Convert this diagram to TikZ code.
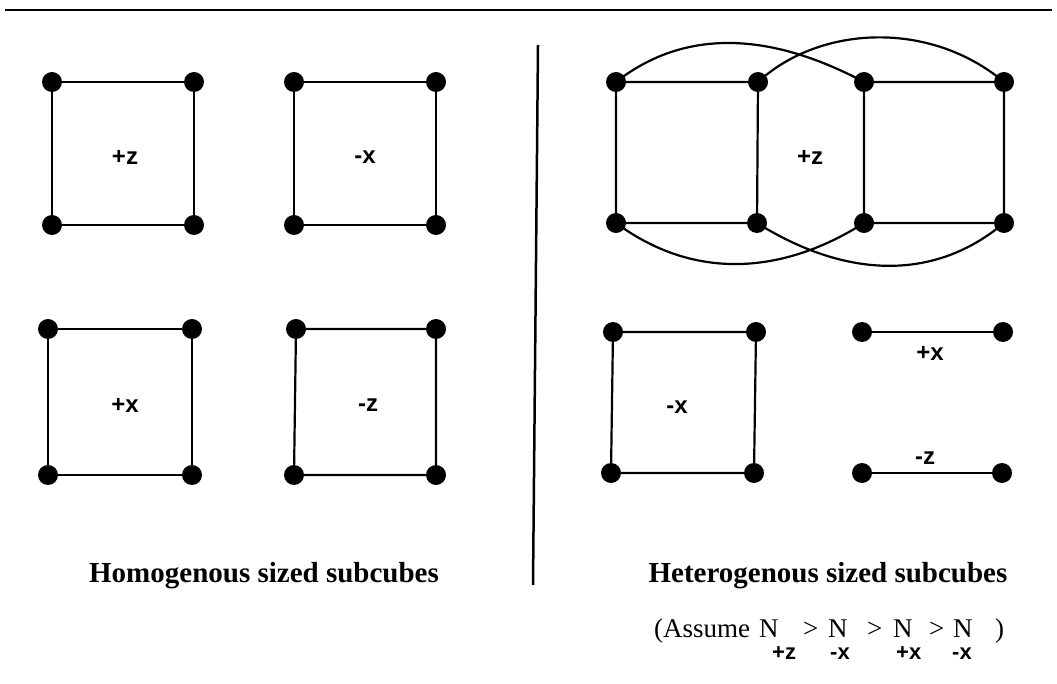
\documentclass[tikz,border=0pt]{standalone}
\usepackage{fontspec}
\setmainfont{Liberation Serif}
\newfontfamily\labfont{Liberation Sans}
\begin{document}
\begin{tikzpicture}[x=1pt,y=-1pt,
  dot/.style={circle,fill=black,inner sep=0pt,minimum size=20pt},
  edge/.style={line width=2.2pt},
  lab/.style={font=\labfont\bfseries\fontsize{24}{24}\selectfont,inner sep=0pt},
  captext/.style={font=\bfseries\fontsize{29}{29}\selectfont,inner sep=0pt,anchor=base},
  asm/.style={font=\fontsize{27}{27}\selectfont,inner sep=0pt,anchor=base west},
  subtext/.style={font=\labfont\bfseries\fontsize{22}{22}\selectfont,inner sep=0pt,anchor=base west}]
\useasboundingbox (0,0) rectangle (1057,684);
% top rule and divider
\coordinate (tl) at (5,10);
\coordinate (tr) at (1052,10);
\draw[line width=2.5pt] (tl) -- (tr);
\coordinate (vt) at (538,45);
\coordinate (vb) at (533,585);
\draw[line width=2.5pt] (vt) -- (vb);
% ---------- homogenous ----------
\node[dot] (a1) at (52,82) {};
\node[dot] (a2) at (194,82) {};
\node[dot] (a3) at (52,225) {};
\node[dot] (a4) at (194,225) {};
\draw[edge] (a1) -- (a2) -- (a4) -- (a3) -- (a1);
\node[lab] (la) at (125,157) {+z};
\node[dot] (b1) at (294,82) {};
\node[dot] (b2) at (436,82) {};
\node[dot] (b3) at (294,225) {};
\node[dot] (b4) at (436,225) {};
\draw[edge] (b1) -- (b2) -- (b4) -- (b3) -- (b1);
\node[lab] (lb) at (365,157) {-x};
\node[dot] (c1) at (48,329) {};
\node[dot] (c2) at (192,329) {};
\node[dot] (c3) at (48,475) {};
\node[dot] (c4) at (192,475) {};
\draw[edge] (c1) -- (c2) -- (c4) -- (c3) -- (c1);
\node[lab] (lc) at (125,405) {+x};
\node[dot] (d1) at (296,329) {};
\node[dot] (d2) at (436,329) {};
\node[dot] (d3) at (294,475) {};
\node[dot] (d4) at (436,475) {};
\draw[edge] (d1) -- (d2) -- (d4) -- (d3) -- (d1);
\node[lab] (ld) at (368,405) {-z};
\node[captext] (hom) at (264,582) {Homogenous sized subcubes};
% ---------- heterogenous ----------
\node[dot] (r1) at (616,82) {};
\node[dot] (r2) at (758,82) {};
\node[dot] (r3) at (864,82) {};
\node[dot] (r4) at (1004,82) {};
\node[dot] (r5) at (616,223) {};
\node[dot] (r6) at (757,223) {};
\node[dot] (r7) at (864,223) {};
\node[dot] (r8) at (1004,223) {};
\draw[edge] (r1) -- (r2) (r3) -- (r4) (r5) -- (r6) (r7) -- (r8)
  (r1) -- (r5) (r2) -- (r6) (r3) -- (r7) (r4) -- (r8);
\draw[edge] (r1.center) .. controls (685,28) and (770,32) .. (r3.center);
\draw[edge] (r2.center) .. controls (820,25) and (930,20) .. (r4.center);
\draw[edge] (r5.center) .. controls (700,285) and (790,270) .. (r7.center);
\draw[edge] (r6.center) .. controls (840,275) and (930,285) .. (r8.center);
\node[lab] (lr) at (810,157) {+z};
\node[dot] (s1) at (613,332) {};
\node[dot] (s2) at (756,332) {};
\node[dot] (s3) at (611,473) {};
\node[dot] (s4) at (754,473) {};
\draw[edge] (s1) -- (s2) -- (s4) -- (s3) -- (s1);
\node[lab] (ls) at (677,407) {-x};
\node[dot] (p1) at (862,332) {};
\node[dot] (p2) at (1003,332) {};
\draw[edge] (p1) -- (p2);
\node[lab] (lp) at (930,353) {+x};
\node[dot] (q1) at (862,473) {};
\node[dot] (q2) at (1002,473) {};
\draw[edge] (q1) -- (q2);
\node[lab] (lq) at (925,458) {-z};
\node[captext] (het) at (828,582) {Heterogenous sized subcubes};
% assume line
\node[asm] (as) at (654,637) {(Assume};
\node[asm] (n1) at (759,637) {N};
\node[asm] (g1) at (803,637) {>};
\node[asm] (n2) at (828,637) {N};
\node[asm] (g2) at (867,637) {>};
\node[asm] (n3) at (893,637) {N};
\node[asm] (g3) at (929,637) {>};
\node[asm] (n4) at (953,637) {N};
\node[asm] (cp) at (995,637) {)};
\node[subtext] (s1t) at (772,659) {+z};
\node[subtext] (s2t) at (830,659) {-x};
\node[subtext] (s3t) at (896,659) {+x};
\node[subtext] (s4t) at (952,659) {-x};
\end{tikzpicture}
\end{document}
